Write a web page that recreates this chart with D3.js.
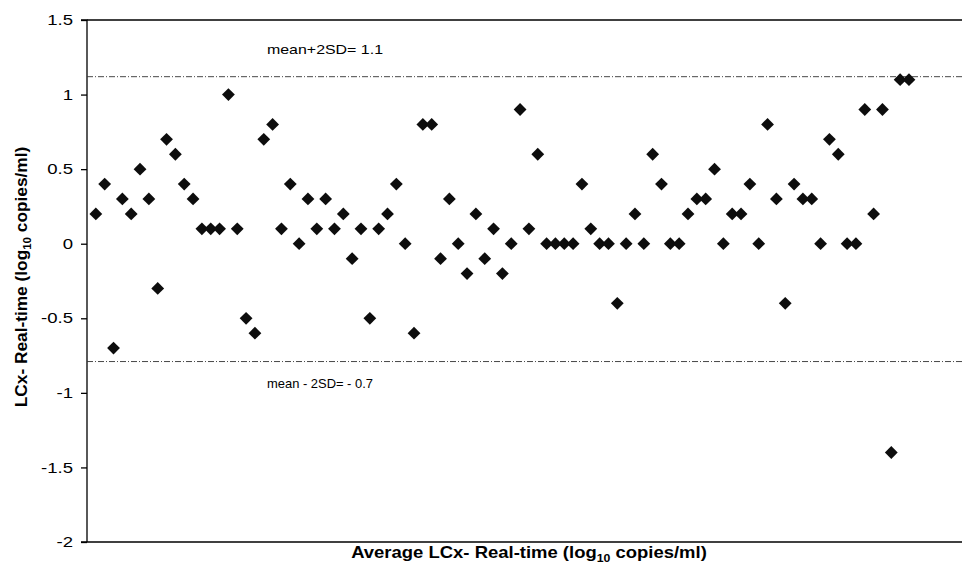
<!DOCTYPE html>
<html lang="en">
<head>
    <meta charset="UTF-8">
    <title>LCx vs Real-time difference plot</title>
    <script src="https://d3js.org/d3.v7.min.js"></script>
    <style>
        body { margin: 0; background: #fff; font-family: Arial, "Liberation Sans", sans-serif; }
        .tick text { font-size: 14.5px; fill: #000; }
        .axis-title { font-size: 16.5px; font-weight: bold; }
        .ref-label { font-size: 13.5px; }
    </style>
</head>
<body>
    <svg width="962" height="566"></svg>

    <script>
        // Differences (LCx - Real-time), ordered along the x axis
        const diffs = [
            0.2, 0.4, -0.7, 0.3, 0.2, 0.5, 0.3, -0.3, 0.7, 0.6,
            0.4, 0.3, 0.1, 0.1, 0.1, 1.0, 0.1, -0.5, -0.6, 0.7,
            0.8, 0.1, 0.4, 0.0, 0.3, 0.1, 0.3, 0.1, 0.2, -0.1,
            0.1, -0.5, 0.1, 0.2, 0.4, 0.0, -0.6, 0.8, 0.8, -0.1,
            0.3, 0.0, -0.2, 0.2, -0.1, 0.1, -0.2, 0.0, 0.9, 0.1,
            0.6, 0.0, 0.0, 0.0, 0.0, 0.4, 0.1, 0.0, 0.0, -0.4,
            0.0, 0.2, 0.0, 0.6, 0.4, 0.0, 0.0, 0.2, 0.3, 0.3,
            0.5, 0.0, 0.2, 0.2, 0.4, 0.0, 0.8, 0.3, -0.4, 0.4,
            0.3, 0.3, 0.0, 0.7, 0.6, 0.0, 0.0, 0.9, 0.2, 0.9,
            -1.4, 1.1, 1.1
        ];
        const positions = d3.range(1, diffs.length + 1);

        const yTicks = [-2, -1.5, -1, -0.5, 0, 0.5, 1, 1.5];
        const limits = [
            {value: 1.12, label: "mean+2SD= 1.1", dy: -23, len: 116},
            {value: -0.79, label: "mean - 2SD= - 0.7", dy: 26, len: 106}
        ];

        const margin = {top: 20, left: 87};
        const plotRight = 975;
        const plotBottom = 542;
        const stretch = 1.28; // tick labels in the source are wide

        const svg = d3.select("svg");

        const x = d3.scaleLinear()
            .domain([0, 99])
            .range([margin.left, 962]);

        const y = d3.scaleLinear()
            .domain([-2, 1.5])
            .range([plotBottom, margin.top]);

        // y axis
        const yAxis = svg.append("g")
            .attr("transform", `translate(${margin.left},0)`)
            .call(d3.axisLeft(y).tickValues(yTicks).tickSize(6)
                .tickFormat(d => String(d)));
        yAxis.selectAll("path, line").attr("stroke", "#000").attr("stroke-width", 1.3);
        yAxis.select(".domain").attr("d", `M-6,${y(1.5)}H0V${y(-2)}`);
        yAxis.selectAll(".tick text")
            .attr("x", -14 / stretch)
            .attr("transform", `scale(${stretch},1)`);

        // top and bottom frame lines
        svg.append("line")
            .attr("x1", margin.left).attr("x2", plotRight)
            .attr("y1", y(1.5)).attr("y2", y(1.5))
            .attr("stroke", "#000").attr("stroke-width", 1.3);
        svg.append("line")
            .attr("x1", margin.left - 6).attr("x2", plotRight)
            .attr("y1", y(-2)).attr("y2", y(-2))
            .attr("stroke", "#000").attr("stroke-width", 1.3);

        // mean +/- 2SD lines
        svg.selectAll(".limit")
            .data(limits)
            .enter().append("line")
            .attr("class", "limit")
            .attr("x1", margin.left).attr("x2", plotRight)
            .attr("y1", d => y(d.value)).attr("y2", d => y(d.value))
            .attr("stroke", "#333")
            .attr("stroke-width", 0.9)
            .attr("stroke-dasharray", "6,2,1,2");

        svg.selectAll(".ref-label")
            .data(limits)
            .enter().append("text")
            .attr("class", "ref-label")
            .attr("x", 267)
            .attr("y", d => y(d.value) + d.dy)
            .attr("textLength", d => d.len)
            .attr("lengthAdjust", "spacingAndGlyphs")
            .text(d => d.label);

        // points
        svg.selectAll(".pt")
            .data(diffs)
            .enter().append("path")
            .attr("class", "pt")
            .attr("d", d3.symbol(d3.symbolSquare, 82))
            .attr("transform", (d, i) => `translate(${x(positions[i])},${y(d)}) rotate(45)`)
            .attr("fill", "#0d0d0d");

        // axis titles
        const xt = svg.append("text")
            .attr("class", "axis-title")
            .attr("transform", "translate(529,558) scale(1.12,1)")
            .attr("text-anchor", "middle");
        xt.append("tspan").text("Average LCx- Real-time (log");
        xt.append("tspan").attr("font-size", "11px").attr("dy", 4).text("10");
        xt.append("tspan").attr("dy", -4).text(" copies/ml)");

        const yt = svg.append("text")
            .attr("class", "axis-title")
            .style("font-size", "17.3px")
            .attr("transform", `translate(27,277) rotate(-90)`)
            .attr("text-anchor", "middle");
        yt.append("tspan").text("LCx- Real-time (log");
        yt.append("tspan").attr("font-size", "11.5px").attr("dy", 4).text("10");
        yt.append("tspan").attr("dy", -4).text(" copies/ml)");
    </script>
</body>
</html>
